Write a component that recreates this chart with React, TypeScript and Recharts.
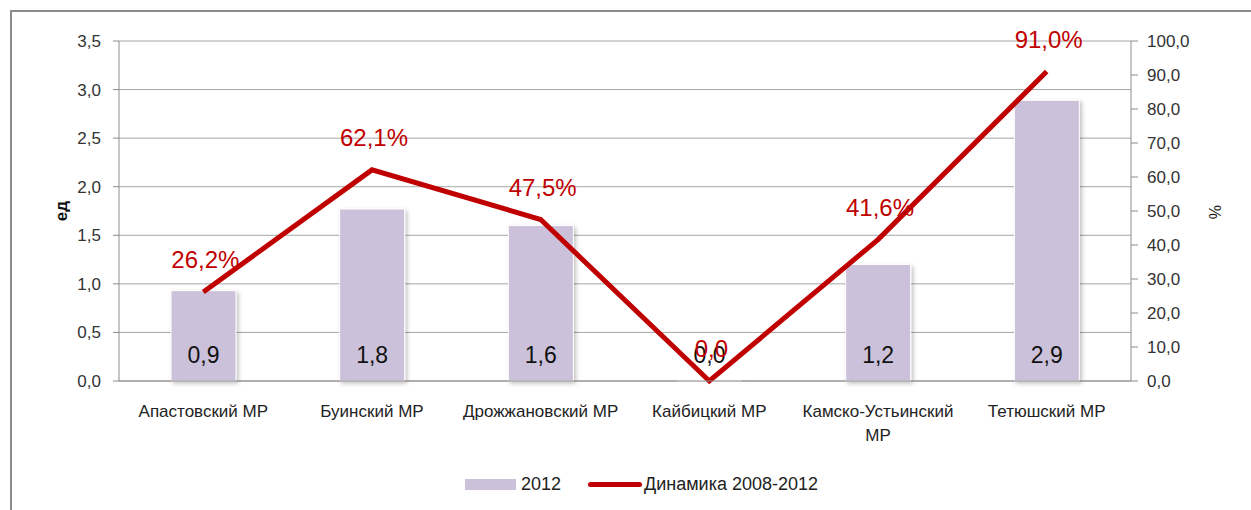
import React from "react";
import {
  ComposedChart,
  Bar,
  Line,
  XAxis,
  YAxis,
  CartesianGrid,
  LabelList,
  Legend,
  Label,
} from "recharts";

const districts = [
  "Апастовский МР",
  "Буинский МР",
  "Дрожжановский МР",
  "Кайбицкий МР",
  "Камско-Устьинский МР",
  "Тетюшский МР",
];
const units2012 = [0.93, 1.77, 1.6, 0, 1.2, 2.89];
const dynamics = [26.2, 62.1, 47.5, 0, 41.6, 91.0];
const leftTicks = [0, 0.5, 1, 1.5, 2, 2.5, 3, 3.5];
const rightTicks = [0, 10, 20, 30, 40, 50, 60, 70, 80, 90, 100];
const boundaryTicks = [0, 1, 2, 3, 4, 5, 6];

const data = districts.map((name, i) => ({
  name,
  units: units2012[i],
  dyn: dynamics[i],
}));

const FONT = "'Liberation Sans', Arial, sans-serif";
const RED = "#C00000";
const BAR = "#CCC1DA";

const comma = (v: number) => v.toFixed(1).replace(".", ",");

// long names wrap onto two lines, as in the original
function splitLabel(s: string) {
  if (s.length <= 18) return [s];
  const cut = s.lastIndexOf(" ");
  return [s.slice(0, cut), s.slice(cut + 1)];
}

function CategoryTick(props: any) {
  const { x, y, payload } = props;
  const lines = splitLabel(String(payload.value));
  return (
    <text
      x={x}
      y={y + 28}
      textAnchor="middle"
      style={{ fontFamily: FONT, fontSize: 17, fill: "#222" }}
    >
      {lines.map((l, i) => (
        <tspan key={i} x={x} dy={i === 0 ? 0 : 24}>
          {l}
        </tspan>
      ))}
    </text>
  );
}

function BarValue(props: any) {
  const { x, y, width, height, value } = props;
  const base = y + height;
  return (
    <text
      x={x + width / 2}
      y={base - 18}
      textAnchor="middle"
      style={{ fontFamily: FONT, fontSize: 23, fill: "#111" }}
    >
      {comma(Number(value))}
    </text>
  );
}

function LineValue(props: any) {
  const { x, y, value } = props;
  return (
    <text
      x={x + 2}
      y={y - 24}
      textAnchor="middle"
      style={{ fontFamily: FONT, fontSize: 24, fill: RED }}
    >
      {value === 0 ? "0,0" : comma(value) + "%"}
    </text>
  );
}

function LegendBox() {
  return (
    <div
      style={{
        display: "flex",
        alignItems: "center",
        paddingLeft: 465,
        fontFamily: FONT,
        fontSize: 18,
        color: "#222",
        height: 26,
      }}
    >
      <span
        style={{
          display: "inline-block",
          width: 51,
          height: 11,
          background: BAR,
          marginRight: 5,
        }}
      />
      <span style={{ marginRight: 27 }}>2012</span>
      <span
        style={{
          display: "inline-block",
          width: 54,
          height: 5,
          borderRadius: 3,
          background: RED,
          marginRight: 2,
        }}
      />
      <span>Динамика 2008-2012</span>
    </div>
  );
}

export default function App() {
  return (
    <div
      style={{
        position: "absolute",
        left: 0,
        top: 0,
        width: 1251,
        height: 510,
        overflow: "hidden",
        background: "#fff",
      }}
    >
      <div
        style={{
          position: "absolute",
          left: 10,
          top: 10,
          width: 1260,
          height: 520,
          borderLeft: "2px solid #8c8c8c",
          borderTop: "2px solid #8c8c8c",
        }}
      />
      <ComposedChart
        width={1251}
        height={510}
        data={data}
        margin={{ top: 41, right: 0, left: 0, bottom: 0 }}
        style={{ position: "absolute", left: 0, top: 0 }}
      >
        <defs>
          <filter id="barShadow" x="-20%" y="-5%" width="140%" height="115%">
            <feDropShadow dx="2" dy="2" stdDeviation="2" floodColor="#000" floodOpacity="0.25" />
          </filter>
        </defs>
        <CartesianGrid
          yAxisId="left"
          vertical={false}
          stroke="#a6a6a6"
          strokeWidth={1}
        />
        <XAxis
          xAxisId="cat"
          dataKey="name"
          height={129}
          tick={<CategoryTick />}
          tickLine={false}
          axisLine={{ stroke: "#8c8c8c" }}
          interval={0}
        />
        <XAxis
          xAxisId="edge"
          type="number"
          domain={[0, 6]}
          ticks={boundaryTicks}
          tick={false}
          tickSize={6}
          tickLine={{ stroke: "#8c8c8c" }}
          axisLine={false}
          height={0}
        />
        <YAxis
          yAxisId="left"
          width={119}
          domain={[0, 3.5]}
          ticks={leftTicks}
          tickFormatter={comma}
          tickSize={6}
          tickMargin={12}
          tickLine={{ stroke: "#8c8c8c" }}
          axisLine={{ stroke: "#8c8c8c" }}
          tick={{ fontFamily: FONT, fontSize: 17, fill: "#333" }}
        >
          <Label
            content={() => (
              <text
                x={67}
                y={211}
                transform="rotate(-90 67 211)"
                textAnchor="middle"
                style={{ fontFamily: FONT, fontSize: 17, fontWeight: "bold", fill: "#111" }}
              >
                ед
              </text>
            )}
          />
        </YAxis>
        <YAxis
          yAxisId="right"
          orientation="right"
          width={120}
          domain={[0, 100]}
          ticks={rightTicks}
          tickFormatter={comma}
          tickSize={7}
          tickMargin={9}
          tickLine={{ stroke: "#8c8c8c" }}
          axisLine={{ stroke: "#8c8c8c" }}
          tick={{ fontFamily: FONT, fontSize: 17, fill: "#333" }}
        >
          <Label
            content={() => (
              <text
                x={1221}
                y={212}
                transform="rotate(-90 1221 212)"
                textAnchor="middle"
                style={{ fontFamily: FONT, fontSize: 16, fill: "#222" }}
              >
                %
              </text>
            )}
          />
        </YAxis>
        <Legend
          layout="horizontal"
          verticalAlign="middle"
          align="center"
          wrapperStyle={{ top: 471, left: 0, width: 1251 }}
          content={() => <LegendBox />}
        />
        <Bar
          xAxisId="cat"
          yAxisId="left"
          dataKey="units"
          name="2012"
          fill={BAR}
          stroke="#fff"
          strokeWidth={1}
          barSize={65}
          minPointSize={(v: number) => (v === 0 ? 0.01 : 0)}
          filter="url(#barShadow)"
          isAnimationActive={false}
        >
          <LabelList dataKey="units" content={<BarValue />} />
        </Bar>
        <Line
          xAxisId="cat"
          yAxisId="right"
          dataKey="dyn"
          name="Динамика 2008-2012"
          stroke={RED}
          strokeWidth={5}
          dot={false}
          activeDot={false}
          strokeLinejoin="miter"
          isAnimationActive={false}
        >
          <LabelList dataKey="dyn" content={<LineValue />} />
        </Line>
      </ComposedChart>
    </div>
  );
}
